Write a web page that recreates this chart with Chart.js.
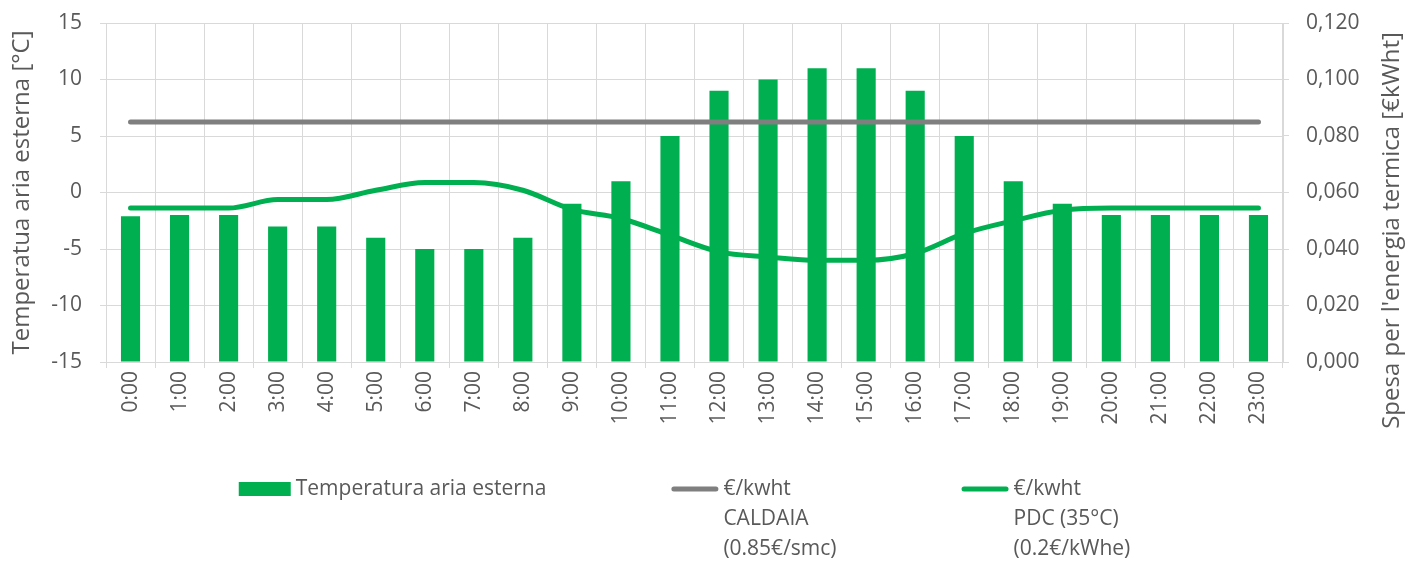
<!DOCTYPE html>
<html>
<head>
<meta charset="utf-8">
<script src="https://cdn.jsdelivr.net/npm/chart.js@4.4.1/dist/chart.umd.min.js"></script>
<style>
  html, body { margin: 0; padding: 0; background: #ffffff; }
  #wrap { width: 1415px; height: 561px; }
</style>
</head>
<body>
<div id="wrap"><canvas id="chart" width="1415" height="561"></canvas></div>
<script>
// Hours of the day
const hours = ['0:00','1:00','2:00','3:00','4:00','5:00','6:00','7:00','8:00','9:00','10:00','11:00',
               '12:00','13:00','14:00','15:00','16:00','17:00','18:00','19:00','20:00','21:00','22:00','23:00'];

// Outdoor air temperature [°C]
const outdoorTemp = [-2.1, -2, -2, -3, -3, -4, -5, -5, -4, -1, 1, 5, 9, 10, 11, 11, 9, 5, 1, -1, -2, -2, -2, -2];

// Cost of thermal energy [€/kWht] – gas boiler (0.85 €/smc)
const boilerCost = [0.085, 0.085, 0.085, 0.085, 0.085, 0.085, 0.085, 0.085, 0.085, 0.085, 0.085, 0.085,
                    0.085, 0.085, 0.085, 0.085, 0.085, 0.085, 0.085, 0.085, 0.085, 0.085, 0.085, 0.085];

// Cost of thermal energy [€/kWht] – heat pump at 35 °C (0.2 €/kWhe)
const heatPumpCost = [0.0545, 0.0545, 0.0545, 0.0575, 0.0575, 0.0608, 0.0635, 0.0635, 0.0608, 0.0540, 0.0508, 0.0449,
                      0.0390, 0.0372, 0.0360, 0.0360, 0.0384, 0.0455, 0.0500, 0.0537, 0.0545, 0.0545, 0.0545, 0.0545];

// Axis ranges
const tempRange = { min: -15, max: 15, step: 5 };
const costRange = { min: 0, max: 0.12, step: 0.02 };

// Legend texts (one entry per dataset, multi-line)
const legendLabels = [
  ['Temperatura aria esterna'],
  ['€/kwht', 'CALDAIA', '(0.85€/smc)'],
  ['€/kwht', 'PDC (35°C)', '(0.2€/kWhe)']
];

const leftTitle = 'Temperatua aria esterna [°C]';
const rightTitle = "Spesa per l'energia termica [€kWht]";

const FONT = '"Open Sans", "Liberation Sans", sans-serif';
const TEXT = '#595959';
const GRID = '#D9D9D9';
const GREEN = '#00B050';
const GREY = '#7F7F7F';

// Legend below the x axis and right-hand axis title (reading bottom-to-top)
const legendAndTitle = {
  id: 'legendAndTitle',
  afterDraw(chart) {
    const ctx = chart.ctx;
    const area = chart.chartArea;
    ctx.save();
    ctx.font = '21px ' + FONT;
    ctx.fillStyle = TEXT;
    ctx.textBaseline = 'middle';
    ctx.textAlign = 'left';

    const gapText = 5, gapItem = 125, lineH = 30;
    const items = chart.data.datasets.map((ds, i) => {
      const lines = legendLabels[i];
      const markW = ds.type === 'line' ? 47 : 52;
      const textW = Math.max(...lines.map(t => ctx.measureText(t).width));
      return { ds, lines, markW, w: markW + gapText + textW };
    });
    const total = items.reduce((s, it) => s + it.w, 0) + gapItem * (items.length - 1);
    let x = (area.left + area.right) / 2 - 10 - total / 2;
    const y = chart.scales.x.bottom + 43;

    items.forEach(it => {
      if (it.ds.type === 'line') {
        ctx.strokeStyle = it.ds.borderColor;
        ctx.lineWidth = 5;
        ctx.lineCap = 'round';
        ctx.beginPath();
        ctx.moveTo(x + 2.5, y);
        ctx.lineTo(x + it.markW - 2.5, y);
        ctx.stroke();
      } else {
        ctx.fillStyle = it.ds.backgroundColor;
        ctx.fillRect(x, y - 7, it.markW, 14);
      }
      ctx.fillStyle = TEXT;
      it.lines.forEach((t, k) => ctx.fillText(t, x + it.markW + gapText, y + k * lineH));
      x += it.w + gapItem;
    });

    // right axis title
    const y1 = chart.scales.y1;
    ctx.font = '24px ' + FONT;
    ctx.textAlign = 'center';
    ctx.translate(y1.right - 23, (area.top + chart.scales.x.bottom) / 2 - 4);
    ctx.rotate(-Math.PI / 2);
    ctx.fillText(rightTitle, 0, 0);
    ctx.restore();
  }
};

new Chart(document.getElementById('chart'), {
  type: 'bar',
  data: {
    labels: hours,
    datasets: [
      {
        type: 'bar',
        label: legendLabels[0].join(' '),
        data: outdoorTemp,
        base: tempRange.min,
        backgroundColor: GREEN,
        barPercentage: 0.39,
        categoryPercentage: 1.0,
        yAxisID: 'y',
        order: 3
      },
      {
        type: 'line',
        label: legendLabels[1].join(' '),
        data: boilerCost,
        borderColor: GREY,
        backgroundColor: GREY,
        borderWidth: 5,
        borderCapStyle: 'round',
        pointRadius: 0,
        tension: 0,
        yAxisID: 'y1',
        order: 2
      },
      {
        type: 'line',
        label: legendLabels[2].join(' '),
        data: heatPumpCost,
        borderColor: GREEN,
        backgroundColor: GREEN,
        borderWidth: 5,
        borderCapStyle: 'round',
        borderJoinStyle: 'round',
        pointRadius: 0,
        cubicInterpolationMode: 'monotone',
        yAxisID: 'y1',
        order: 1
      }
    ]
  },
  options: {
    responsive: false,
    animation: false,
    devicePixelRatio: 1,
    layout: { padding: { top: 23, left: 0, right: 0, bottom: 115 } },
    plugins: {
      legend: { display: false },
      tooltip: { enabled: false }
    },
    scales: {
      x: {
        grid: { color: GRID, tickLength: 6, offset: true },
        border: { color: GRID },
        ticks: {
          color: TEXT,
          font: { family: FONT, size: 21 },
          minRotation: 90,
          maxRotation: 90,
          autoSkip: false,
          padding: 3
        },
        afterFit(scale) { scale.height = 84; }
      },
      y: {
        position: 'left',
        min: tempRange.min,
        max: tempRange.max,
        grid: { color: GRID, tickLength: 6 },
        border: { color: GRID },
        ticks: {
          stepSize: tempRange.step,
          color: TEXT,
          font: { family: FONT, size: 21 },
          padding: 18
        },
        title: {
          display: true,
          text: leftTitle,
          color: TEXT,
          font: { family: FONT, size: 24 },
          padding: { top: 8, bottom: 0 }
        },
        afterFit(scale) {
          scale.width = 106;
          scale.paddingTop = 0;
          scale.paddingBottom = 0;
        }
      },
      y1: {
        position: 'right',
        min: costRange.min,
        max: costRange.max,
        grid: { drawOnChartArea: false, color: GRID, tickLength: 6 },
        border: { color: GRID },
        ticks: {
          stepSize: costRange.step,
          color: TEXT,
          font: { family: FONT, size: 21 },
          padding: 17,
          callback: v => v.toFixed(3).replace('.', ',')
        },
        afterFit(scale) {
          scale.width = 132;
          scale.paddingTop = 0;
          scale.paddingBottom = 0;
        }
      }
    }
  },
  plugins: [legendAndTitle]
});
</script>
</body>
</html>
